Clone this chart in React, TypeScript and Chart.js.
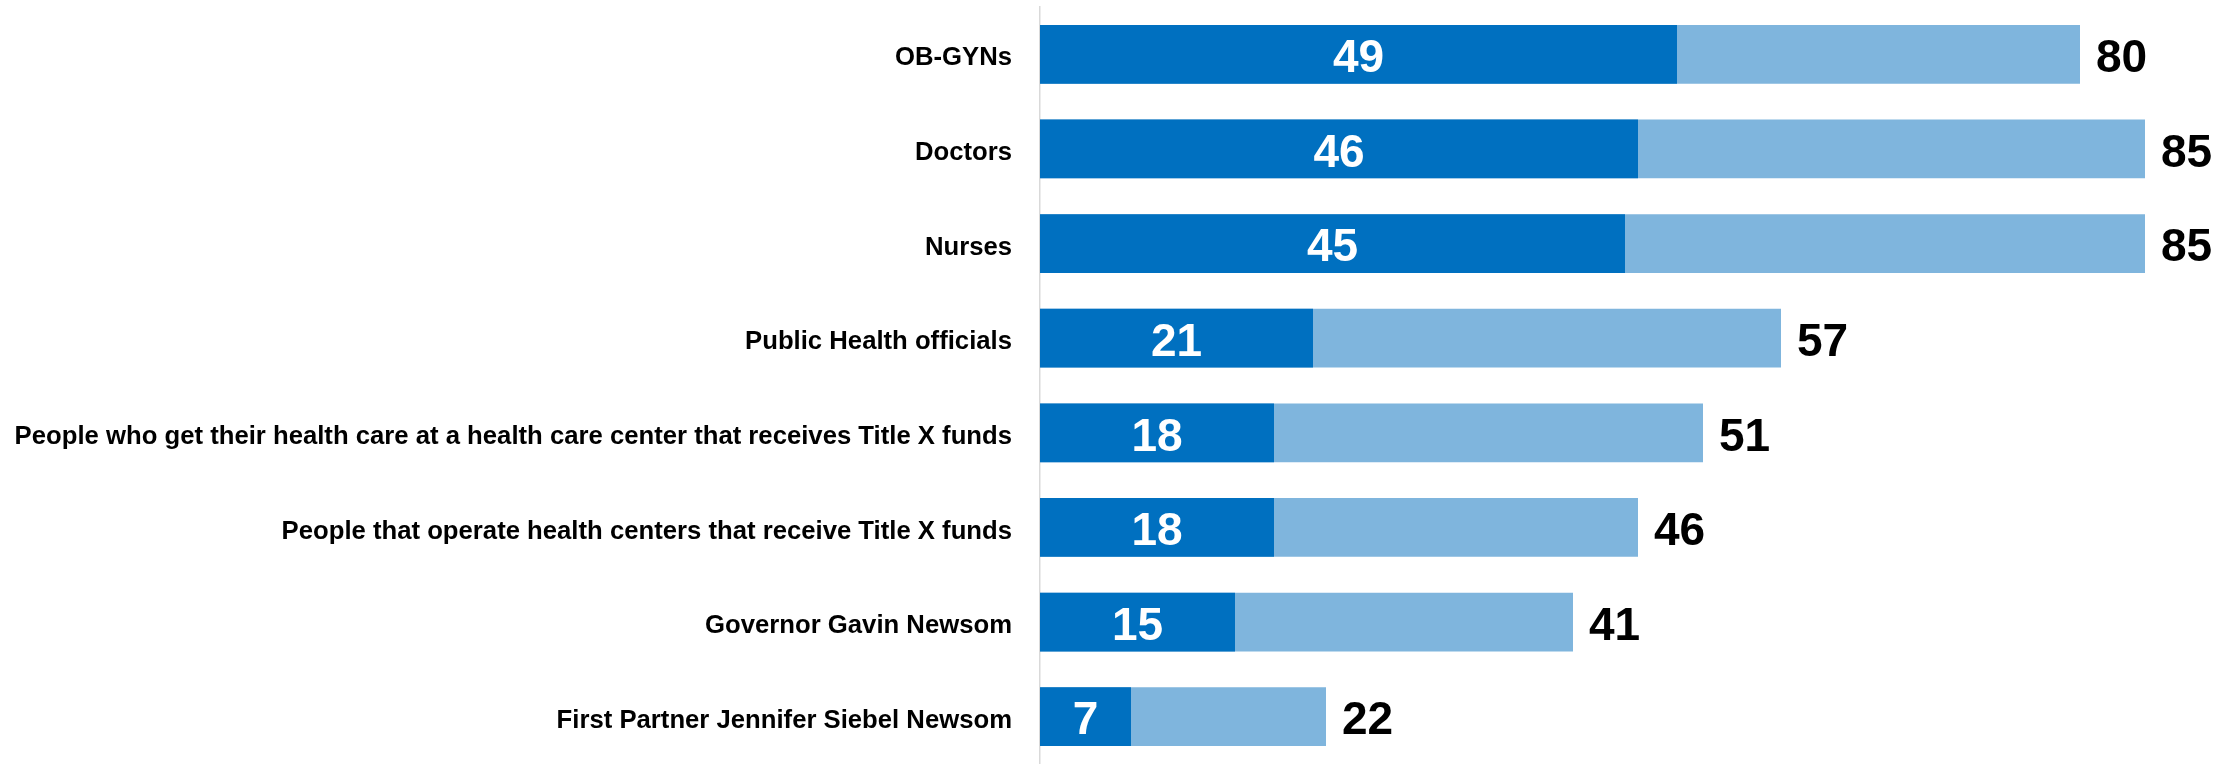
import React, { useEffect, useRef } from "react";
import { Chart, registerables } from "chart.js";

Chart.register(...registerables);

const categories = [
  "OB-GYNs",
  "Doctors",
  "Nurses",
  "Public Health officials",
  "People who get their health care at a health care center that receives Title X funds",
  "People that operate health centers that receive Title X funds",
  "Governor Gavin Newsom",
  "First Partner Jennifer Siebel Newsom",
];
const strongValues = [49, 46, 45, 21, 18, 18, 15, 7];
const totalValues = [80, 85, 85, 57, 51, 46, 41, 22];

const DARK = "#0070C0";
const LIGHT = "#7FB5DD";
const FONT = "'Liberation Sans Narrow', 'Arial Narrow', 'Liberation Sans', sans-serif";

const labelPlugin = {
  id: "valueLabels",
  afterDatasetsDraw(chart: any) {
    const ctx = chart.ctx;
    ctx.save();
    ctx.font = `bold 46px ${FONT}`;
    ctx.textBaseline = "middle";
    const darkMeta = chart.getDatasetMeta(0);
    const lightMeta = chart.getDatasetMeta(1);
    darkMeta.data.forEach((bar: any, i: number) => {
      const x0 = chart.scales.x.getPixelForValue(0);
      ctx.fillStyle = "#FFFFFF";
      ctx.textAlign = "center";
      ctx.fillText(String(strongValues[i]), (x0 + bar.x) / 2, bar.y + 5);
    });
    lightMeta.data.forEach((bar: any, i: number) => {
      ctx.fillStyle = "#000000";
      ctx.textAlign = "left";
      ctx.fillText(String(totalValues[i]), bar.x + 16, bar.y + 5);
    });
    ctx.restore();
  },
};

export default function App() {
  const ref = useRef<HTMLCanvasElement>(null);
  useEffect(() => {
    if (!ref.current) return;
    const chart = new Chart(ref.current, {
      type: "bar",
      data: {
        labels: categories,
        datasets: [
          {
            label: "Strong",
            data: strongValues,
            backgroundColor: DARK,
            grouped: false,
            barPercentage: 0.62,
            categoryPercentage: 1,
          } as any,
          {
            label: "Total",
            data: totalValues,
            backgroundColor: LIGHT,
            grouped: false,
            barPercentage: 0.62,
            categoryPercentage: 1,
          } as any,
        ],
      },
      options: {
        indexAxis: "y",
        responsive: false,
        animation: false,
        layout: { padding: { top: 7, right: 10, bottom: 0, left: 0 } },
        plugins: { legend: { display: false }, tooltip: { enabled: false } },
        scales: {
          x: { display: false, min: 0, max: 90 },
          y: {
            grid: { display: false, drawTicks: false },
            border: { display: true, color: "#D9D9D9", width: 1.5 },
            ticks: {
              color: "#000000",
              padding: 28,
              labelOffset: 4,
              font: { family: FONT, size: 25.7, weight: "bold" },
            },
            afterFit(scale: any) {
              scale.width = 1040;
              scale.paddingTop = 0;
              scale.paddingBottom = 0;
            },
          },
        },
      },
      plugins: [labelPlugin],
    });
    return () => chart.destroy();
  }, []);
  return (
    <div style={{ position: "absolute", left: 0, top: 0, width: 2220, height: 764, background: "#fff" }}>
      <canvas ref={ref} width={2220} height={764} />
    </div>
  );
}
